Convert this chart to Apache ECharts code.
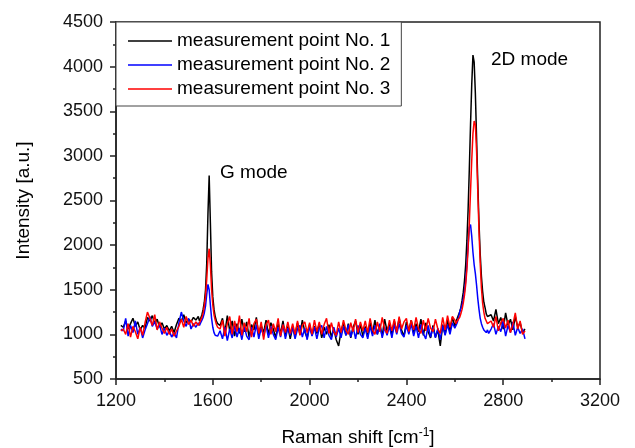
<!DOCTYPE html>
<html>
<head>
<meta charset="utf-8">
<script src="https://cdn.jsdelivr.net/npm/echarts@6/dist/echarts.min.js"></script>
<style>html,body{margin:0;padding:0;background:#fff}#c{width:635px;height:448px}</style>
</head>
<body>
<div id="c"></div>
<script>
// Raman shift positions (cm^-1)
const shifts = [
1220,1230,1240,1250,1260,1270,1280,1290,1300,1310,1320,1330,1340,1350,1360,1370,1380,1390,1400,1410,1420,1430,1440,1450,1460,1470,1480,1490,1500,1510,1520,1530,1540,
1545,1550,1555,1560,1565,1570,1575,1580,1585,1590,1595,1600,1605,1610,1615,1620,1625,
1630,1640,1650,1660,1670,1680,1690,1700,1710,1720,
1730,1740,1750,1760,1770,1780,1790,1800,1810,1820,
1830,1840,1850,1860,1870,1880,1890,1900,1910,1920,
1930,1940,1950,1960,1970,1980,1990,2000,2010,2020,
2030,2040,2050,2060,2070,2080,2090,2100,2110,2120,
2130,2140,2150,2160,2170,2180,2190,2200,2210,2220,
2230,2240,2250,2260,2270,2280,2290,2300,2310,2320,
2330,2340,2350,2360,2370,2380,2390,2400,2410,2420,
2430,2440,2450,2460,2470,2480,2490,2500,2510,2520,
2530,2540,2550,2560,2570,2580,2590,2600,
2605,2610,2615,2620,2625,2630,2635,2640,2645,2650,2655,2660,2665,2670,2675,2680,2685,2690,2695,2700,2705,2710,2715,2720,2725,2730,2735,2740,
2750,2760,2770,2780,2790,2800,2810,2820,2830,2840,2850,2860,2870,2880,2890
];
const point1 = [
1100,1080,1150,1060,1120,1180,1090,1140,1050,1100,1070,1190,1150,1210,1120,1170,1080,1130,1060,1100,1040,1090,1020,1110,1180,1150,1220,1130,1170,1140,1190,1160,1200,
1150,1180,1220,1280,1360,1500,1800,2350,2780,2250,1700,1420,1280,1200,1150,1120,1100,
1100,1180,1020,1210,1040,1150,980,1120,1010,1170,
1030,1140,970,1110,1050,1190,990,1100,1020,1160,
1000,1130,1060,960,1120,1010,1150,980,1090,950,
1080,990,1130,1000,1160,1030,960,1110,990,1090,
1010,1120,960,1080,1000,1110,970,1060,940,870,
1040,1130,990,1120,960,1080,1150,1000,1110,980,
1090,970,1130,1010,1160,1000,1110,980,1170,1040,
1120,990,1150,1030,1180,1050,980,1140,1040,1160,
1010,1120,1030,1170,990,1130,1030,960,1100,970,
1050,870,1110,1000,1160,1030,1190,1090,
1150,1180,1200,1250,1300,1380,1470,1600,1780,2050,2400,2850,3350,3800,4130,4050,3700,3200,2700,2250,1900,1650,1480,1360,1300,1230,1200,1180,
1220,1150,1280,1120,1190,1060,1240,1100,1170,1050,1200,1080,1130,1020,1060
];
const point2 = [
1060,1040,1180,980,1100,1020,1150,1000,1080,960,1050,1120,1200,1090,1140,1060,1110,1000,1070,990,1040,970,1020,960,1130,1250,1150,1090,1180,1060,1120,1080,1130,
1100,1130,1160,1190,1240,1320,1450,1560,1500,1330,1180,1080,1020,990,1000,980,1010,
1040,950,1080,930,1060,960,1100,970,1070,940,
1090,980,940,1080,970,1110,950,1070,980,1100,
960,1090,1000,940,1080,970,1110,950,1070,990,
1080,950,1060,1100,970,1070,940,1090,980,1080,
950,1070,1100,960,1090,990,940,1080,970,1070,
960,1090,990,1110,970,1080,950,1100,1000,960,
1070,950,1090,980,1100,1000,1120,960,1080,990,
1090,960,1110,1000,1120,1010,970,1100,1000,1120,
980,1090,960,1110,1010,950,1100,970,1080,960,
1070,940,1100,990,1110,1000,1130,1070,
1100,1130,1180,1250,1290,1330,1400,1480,1600,1780,2000,2200,2230,2100,1920,1780,1680,1550,1400,1280,1180,1120,1080,1050,1040,1020,1050,1010,
1060,1120,1000,1090,1030,1150,980,1100,1020,1140,990,1080,1010,1060,950
];
const point3 = [
1040,1060,1000,1120,970,1090,1030,950,1080,990,1130,1250,1180,1100,1220,1050,1140,1070,1010,1080,1000,1060,980,1040,1090,1170,1080,1200,1110,1160,1090,1140,1100,
1130,1160,1190,1240,1320,1430,1620,1850,1960,1780,1500,1330,1220,1160,1110,1080,1070,
1060,1160,980,1120,1200,1000,1150,1030,1210,990,
1130,1030,1180,970,1120,1170,1010,1140,940,1110,
1160,1000,1120,1030,1180,980,1110,1020,1140,1010,
1120,1000,1150,990,1100,1140,1020,1130,1000,1160,
1030,1140,1000,1110,1180,1010,1130,1030,990,1140,
1020,1160,1050,1000,1130,1030,1170,1020,1140,1040,
1150,1020,1180,1050,1000,1140,1030,1190,1060,1010,
1160,1040,1170,1020,1200,1060,1140,1180,1030,1160,
1050,1190,1060,1010,1160,1040,1180,1070,1030,1170,
1060,1010,1190,1050,1210,1080,1200,1160,
1120,1150,1170,1190,1230,1280,1350,1440,1560,1730,1960,2250,2600,2950,3250,3390,3350,3050,2600,2150,1800,1520,1350,1250,1180,1150,1120,1100,
1150,1080,1200,1040,1130,1180,1070,1160,1020,1110,1240,1060,1150,1000,1040
];
const seriesNames = ['measurement point No. 1','measurement point No. 2','measurement point No. 3'];
const seriesColors = ['#000000','#0000ff','#ff0000'];
const seriesValues = [point1, point2, point3];
const xTicks = {min:1200, max:3200, interval:400};
const yTicks = {min:500, max:4500, interval:500};

const FONT = 'Liberation Sans, Arial, sans-serif';
const chart = echarts.init(document.getElementById('c'), null, {renderer:'canvas'});
chart.setOption({
  animation:false,
  backgroundColor:'#fff',
  grid:{left:116, right:35, top:22, bottom:69, show:true, borderColor:'#222', borderWidth:1.5, backgroundColor:'transparent', containLabel:false, outerBoundsMode:'none'},
  legend:{
    orient:'vertical', left:116, top:22,
    icon:'rect', itemWidth:44, itemHeight:1.5, itemGap:4,
    padding:[9,11,7,12],
    borderColor:'#444', borderWidth:1, backgroundColor:'#fff',
    textStyle:{fontFamily:FONT, fontSize:19, color:'#000', lineHeight:20},
    data:seriesNames
  },
  xAxis:{
    type:'value', min:xTicks.min, max:xTicks.max, interval:xTicks.interval,
    name:'Raman shift [cm{sup|-1}]', nameLocation:'middle', nameGap:48,
    nameTextStyle:{fontFamily:FONT, fontSize:19, color:'#000', rich:{sup:{fontFamily:FONT, fontSize:12, verticalAlign:'top', padding:[0,0,10,0], color:'#000'}}},
    axisLine:{show:true, lineStyle:{color:'#222', width:1.5}},
    axisTick:{show:true, length:6, lineStyle:{color:'#222', width:1.5}},
    minorTick:{show:true, splitNumber:2, length:3, lineStyle:{color:'#222', width:1.5}},
    splitLine:{show:false},
    axisLabel:{fontFamily:FONT, fontSize:18, color:'#111', margin:13, formatter:v=>String(v)}
  },
  yAxis:{
    type:'value', min:yTicks.min, max:yTicks.max, interval:yTicks.interval,
    name:'Intensity [a.u.]', nameLocation:'middle', nameGap:83, nameRotate:90,
    nameTextStyle:{fontFamily:FONT, fontSize:19, color:'#000'},
    axisLine:{show:true, lineStyle:{color:'#222', width:1.5}},
    axisTick:{show:true, length:6, lineStyle:{color:'#222', width:1.5}},
    minorTick:{show:true, splitNumber:2, length:3, lineStyle:{color:'#222', width:1.5}},
    splitLine:{show:false},
    axisLabel:{fontFamily:FONT, fontSize:18, color:'#111', margin:13, formatter:v=>String(v)}
  },
  graphic:[
    {type:'text', left:220, top:163, style:{text:'G mode', fontFamily:FONT, fontSize:19, fill:'#000'}},
    {type:'text', left:491, top:50, style:{text:'2D mode', fontFamily:FONT, fontSize:19, fill:'#000'}}
  ],
  series: seriesNames.map((n,i)=>({
    name:n, type:'line', showSymbol:false, symbol:'none',
    lineStyle:{color:seriesColors[i], width:1.5}, itemStyle:{color:seriesColors[i]},
    data: shifts.map((x,j)=>[x, seriesValues[i][j]])
  }))
});
</script>
</body>
</html>
